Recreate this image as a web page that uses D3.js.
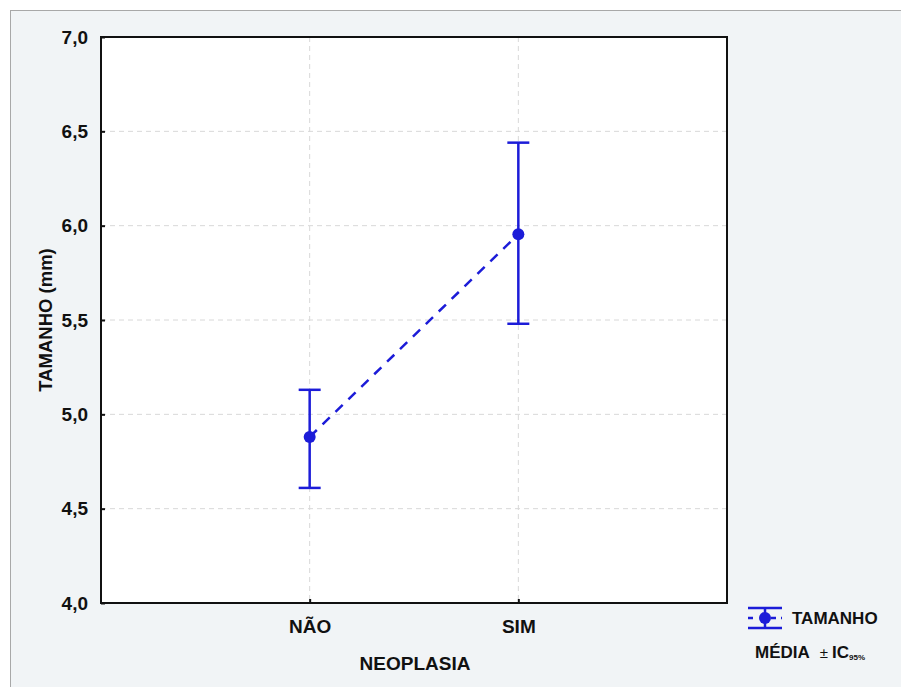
<!DOCTYPE html>
<html>
<head>
<meta charset="utf-8">
<script src="https://cdn.jsdelivr.net/npm/d3@7"></script>
<style>
  body { margin: 0; background: #fff; }
  svg text { font-family: "Liberation Sans", Arial, sans-serif; font-weight: bold; fill: #111; }
</style>
</head>
<body>
<svg id="chart" width="901" height="687"></svg>
<script>
// data
const categories = ['NÃO', 'SIM'];
const means = [4.88, 5.955];
const lower = [4.61, 5.48];
const upper = [5.13, 6.44];
const yTicks = [4.0, 4.5, 5.0, 5.5, 6.0, 6.5, 7.0];

const svg = d3.select('#chart');
const W = +svg.attr('width');
const H = +svg.attr('height');
const blue = '#1c1cd8';
const margin = { top: 37, right: 174, bottom: 84, left: 101 };
const plotW = W - margin.left - margin.right;
const plotH = H - margin.top - margin.bottom;

// outer frame
svg.append('rect')
  .attr('x', 10.5).attr('y', 10.5)
  .attr('width', W).attr('height', H)
  .attr('fill', '#f1f4f6')
  .attr('stroke', '#a8a8a8');

const x = d3.scalePoint().domain(categories).range([0, plotW]).padding(1);
const y = d3.scaleLinear().domain([4, 7]).range([plotH, 0]);

const g = svg.append('g').attr('transform', `translate(${margin.left},${margin.top})`);

g.append('rect')
  .attr('width', plotW).attr('height', plotH)
  .attr('fill', '#fff');

// grid
g.selectAll('.hgrid')
  .data(yTicks.slice(1, -1))
  .enter().append('line')
  .attr('x1', 0).attr('x2', plotW)
  .attr('y1', d => y(d)).attr('y2', d => y(d))
  .attr('stroke', '#d8d8d8').attr('stroke-dasharray', '5,4');

g.selectAll('.vgrid')
  .data(categories)
  .enter().append('line')
  .attr('x1', d => x(d)).attr('x2', d => x(d))
  .attr('y1', 0).attr('y2', plotH)
  .attr('stroke', '#d8d8d8').attr('stroke-dasharray', '5,4');

// axes
const yAxis = g.append('g')
  .call(d3.axisLeft(y).tickValues(yTicks).tickSize(-4).tickPadding(13)
    .tickFormat(d => d3.format('.1f')(d).replace('.', ',')));
const xAxis = g.append('g')
  .attr('transform', `translate(0,${plotH})`)
  .call(d3.axisBottom(x).tickSize(-4).tickPadding(17));

[yAxis, xAxis].forEach(a => {
  a.select('.domain').remove();
  a.selectAll('line').attr('stroke', '#111').attr('stroke-width', 2);
  a.selectAll('text').style('font-size', '19px').attr('fill', '#111');
});

// plot border
g.append('rect')
  .attr('width', plotW).attr('height', plotH)
  .attr('fill', 'none').attr('stroke', '#111').attr('stroke-width', 2);

// dashed mean line
g.append('path')
  .datum(categories.map((c, i) => [x(c), y(means[i])]))
  .attr('d', d3.line())
  .attr('fill', 'none').attr('stroke', blue)
  .attr('stroke-width', 2.5).attr('stroke-dasharray', '10,8');

// error bars
const bars = g.selectAll('.bar')
  .data(categories)
  .enter().append('g')
  .attr('transform', d => `translate(${x(d)},0)`);

bars.append('line')
  .attr('y1', (d, i) => y(lower[i])).attr('y2', (d, i) => y(upper[i]))
  .attr('stroke', blue).attr('stroke-width', 2.5);
bars.append('line')
  .attr('x1', -11).attr('x2', 11)
  .attr('y1', (d, i) => y(upper[i])).attr('y2', (d, i) => y(upper[i]))
  .attr('stroke', blue).attr('stroke-width', 2.5);
bars.append('line')
  .attr('x1', -11).attr('x2', 11)
  .attr('y1', (d, i) => y(lower[i])).attr('y2', (d, i) => y(lower[i]))
  .attr('stroke', blue).attr('stroke-width', 2.5);
bars.append('circle')
  .attr('cy', (d, i) => y(means[i]))
  .attr('r', 6)
  .attr('fill', blue);

// axis titles
svg.append('text')
  .attr('transform', `translate(52,${margin.top + plotH / 2}) rotate(-90)`)
  .attr('text-anchor', 'middle')
  .style('font-size', '18.5px')
  .text('TAMANHO (mm)');

svg.append('text')
  .attr('x', margin.left + plotW / 2 + 1)
  .attr('y', 670)
  .attr('text-anchor', 'middle')
  .style('font-size', '19px')
  .text('NEOPLASIA');

// legend
const lg = svg.append('g').attr('transform', 'translate(765,618)');
lg.append('line').attr('x1', -17).attr('x2', 17).attr('y1', -10).attr('y2', -10)
  .attr('stroke', blue).attr('stroke-width', 2.5);
lg.append('line').attr('x1', -17).attr('x2', 17).attr('y1', 10).attr('y2', 10)
  .attr('stroke', blue).attr('stroke-width', 2.5);
lg.append('line').attr('x1', 0).attr('x2', 0).attr('y1', -10).attr('y2', 10)
  .attr('stroke', blue).attr('stroke-width', 2.5);
lg.append('line').attr('x1', -17).attr('x2', 17).attr('y1', 0).attr('y2', 0)
  .attr('stroke', blue).attr('stroke-width', 2.5).attr('stroke-dasharray', '5,6,0,12,5');
lg.append('circle').attr('r', 6).attr('fill', blue);
lg.append('text').attr('x', 27).attr('y', 6)
  .style('font-size', '17px').text('TAMANHO');

const lt = svg.append('text').attr('x', 755).attr('y', 658).style('font-size', '17px');
lt.append('tspan').text('MÉDIA');
lt.append('tspan').attr('dx', 10).style('font-size', '15px').style('font-weight', 'normal').text('±');
lt.append('tspan').attr('dx', 4).text('IC');
lt.append('tspan').attr('dy', 2).style('font-size', '8px').text('95%');
</script>
</body>
</html>
